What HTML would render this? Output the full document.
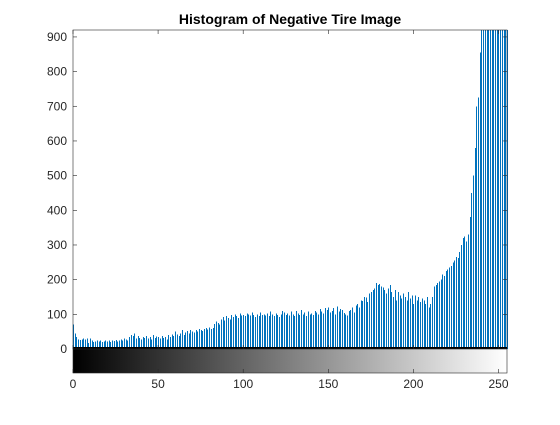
<!DOCTYPE html>
<html><head><meta charset="utf-8"><style>
body{margin:0;background:#fff;width:560px;height:420px;overflow:hidden}
svg text{font-family:"Liberation Sans",Arial,sans-serif}
</style></head><body>
<svg id="c" width="560" height="420" xmlns="http://www.w3.org/2000/svg">
<defs><linearGradient id="g" x1="0" x2="1" y1="0" y2="0"><stop offset="0" stop-color="#000"/><stop offset="1" stop-color="#fff"/></linearGradient></defs>
<text x="290" y="24" text-anchor="middle" font-size="14" font-weight="bold" fill="#000">Histogram of Negative Tire Image</text>
<g id="bars" shape-rendering="crispEdges"></g>
<g id="axes"></g>
</svg>
<script>
const counts = [
70,45,35,28,26,27,30,28,30,18,
30,25,20,22,24,22,25,20,22,24,
22,24,20,25,23,26,22,25,28,24,
30,27,25,35,40,38,45,30,38,32,
28,35,32,38,30,35,28,40,32,36,
35,30,38,32,35,28,40,35,42,38,
50,42,38,45,55,40,48,52,45,55,
50,48,55,50,58,55,52,58,60,56,
62,58,60,72,80,75,70,85,92,82,
95,90,85,98,92,100,95,90,102,96,
98,95,103,100,96,105,98,92,100,95,
105,98,100,96,103,95,108,100,95,102,
98,92,100,110,105,98,102,96,108,100,
95,110,103,98,112,100,105,95,108,100,
102,98,110,105,100,115,108,102,118,112,
120,105,110,118,100,122,108,115,112,104,
100,96,110,112,120,105,125,130,120,140,
138,150,148,135,160,165,170,175,190,185,
188,180,178,170,160,175,185,165,150,170,
140,165,155,145,160,150,140,165,145,155,
130,155,140,150,135,145,140,130,150,120,
130,150,180,185,190,195,200,215,210,225,
230,235,240,250,255,265,262,280,300,320,
325,310,330,380,450,500,580,700,725,855,
950,1200,1400,1500,1600,1700,1800,1700,1900,1800,1700,1600,1500,1400,1300,1200];
const yTicks = [0,100,200,300,400,500,600,700,800,900];
const xTicks = [0,50,100,150,200,250];
const yMax = 920;
const L=73,R=507,T=30,B=349,CB=373;
const xs=v=>L+(v/255)*(R-L);
const ys=v=>B-(Math.min(v,yMax)/yMax)*(B-T);
const NS="http://www.w3.org/2000/svg";
const bars=document.getElementById('bars'),ax=document.getElementById('axes');
function mk(tag,attrs,parent){const e=document.createElementNS(NS,tag);for(const k in attrs)e.setAttribute(k,attrs[k]);parent.appendChild(e);return e;}
counts.forEach((c,i)=>{
 const x=Math.round(xs(i))+0.5;
 const l=mk('line',{x1:x,x2:x,y1:B,y2:ys(c),stroke:'#0072BD','stroke-width':1},bars);
 
 
});
const box=mk('rect',{x:L,y:T,width:R-L,height:B-T,fill:'none',stroke:'#262626','stroke-width':0.6},ax);


const base=mk('line',{x1:L,x2:R,y1:B-1,y2:B-1,stroke:'#000','stroke-width':2},ax);


yTicks.forEach(t=>{
 const y=ys(t);
 mk('line',{x1:L,x2:L+4,y1:y,y2:y,stroke:'#262626','stroke-width':0.6},ax);
 mk('line',{x1:R,x2:R-4,y1:y,y2:y,stroke:'#262626','stroke-width':0.6},ax);
 const tx=mk('text',{x:L-6,y:y+4,'text-anchor':'end','font-size':12,fill:'#262626'},ax);
 tx.textContent=t;
 
 
});
const cb=mk('rect',{x:L,y:B,width:R-L,height:CB-B,fill:'url(#g)',stroke:'#262626','stroke-width':0.6},ax);


xTicks.forEach(t=>{
 const x=xs(t);
 mk('line',{x1:x,x2:x,y1:T,y2:T+4,stroke:'#262626','stroke-width':0.6},ax);
 mk('line',{x1:x,x2:x,y1:B,y2:B-4,stroke:'#262626','stroke-width':0.6},ax);
 mk('line',{x1:x,x2:x,y1:CB,y2:CB-4,stroke:'#262626','stroke-width':0.6},ax);
 const tx=mk('text',{x:x,y:CB+15,'text-anchor':'middle','font-size':12,fill:'#262626'},ax);
 tx.textContent=t;
 
 
});
</script>
</body></html>
